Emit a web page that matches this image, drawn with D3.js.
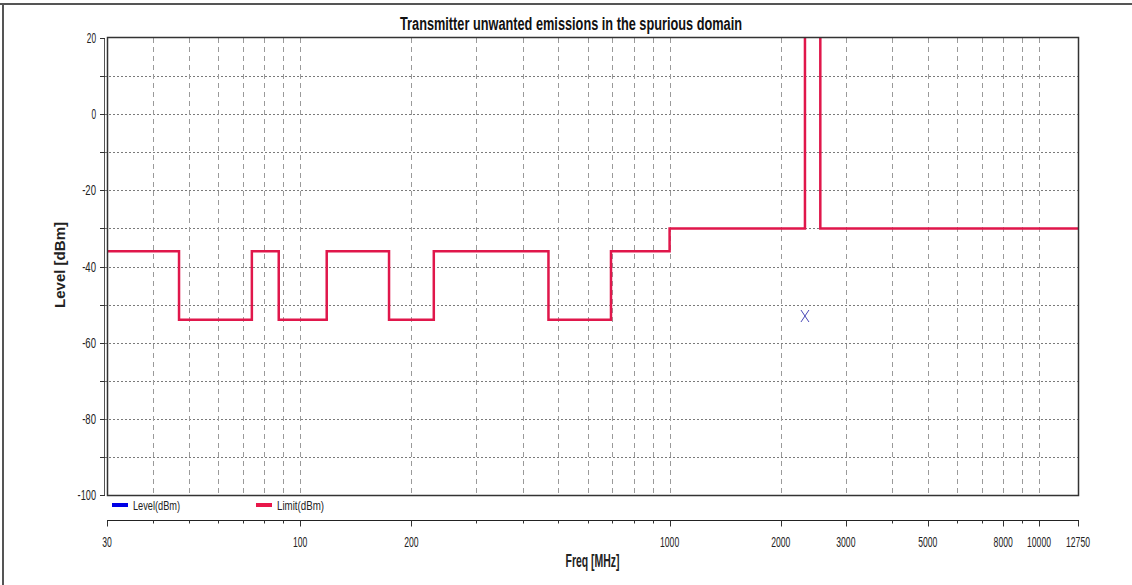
<!DOCTYPE html>
<html>
<head>
<meta charset="utf-8">
<script src="https://cdn.jsdelivr.net/npm/d3@7"></script>
<style>
  body { margin: 0; background: #fff; }
  svg { display: block; }
  text { font-family: "Liberation Sans", Arial, sans-serif; }
</style>
</head>
<body>
<svg width="1132" height="585"></svg>
<script>
// limit line: band start frequency (MHz) and level (dBm), stepped
var bandFreq = [30, 47, 74, 87.5, 118, 174, 230, 470, 694, 1000, 2325, 2558.5, 12750];
var limitLevel = [-36, -54, -36, -54, -36, -54, -36, -54, -36, -30, 30, -30, -30];

// measured level points
var levelFreq = [2325];
var levelValue = [-53];

var xTickLabels = [30, 100, 200, 1000, 2000, 3000, 5000, 8000, 10000, 12750];
var yTickLabels = [20, 0, -20, -40, -60, -80, -100];

var svg = d3.select("svg"),
  width = +svg.attr("width"),
  height = +svg.attr("height");

var plotL = 107, plotR = 1078, plotT = 38, plotB = 495;

var x = d3.scaleLog().domain([30, 12750]).range([plotL, plotR]);
var y = d3.scaleLinear().domain([-100, 20]).range([plotB, plotT]);

// narrow font look: squeeze glyphs to a per-char width
function narrow(sel, perChar) {
  sel.attr("textLength", function () {
    return this.textContent.length * perChar;
  }).attr("lengthAdjust", "spacingAndGlyphs");
}

// outer frame (top + left)
svg.append("line").attr("x1", 0).attr("x2", width).attr("y1", 4).attr("y2", 4)
  .style("stroke", "#555").style("stroke-width", 2);
svg.append("line").attr("x1", 3).attr("x2", 3).attr("y1", 4).attr("y2", height)
  .style("stroke", "#555").style("stroke-width", 2);

// minor freq values for grid / ticks
var minorFreq = [];
[10, 100, 1000, 10000].forEach(function (dec) {
  for (var k = 1; k < 10; k++) {
    var f = dec * k;
    if (f > 30 && f < 12750) minorFreq.push(f);
  }
});

var yGridVals = d3.range(-90, 20, 10);

// grid
svg.append("g")
  .selectAll("line")
  .data(yGridVals)
  .enter()
  .append("line")
  .attr("x1", plotL - 6)
  .attr("x2", plotR)
  .attr("y1", function (d) { return Math.round(y(d)) + 0.5; })
  .attr("y2", function (d) { return Math.round(y(d)) + 0.5; })
  .style("stroke", "#7a7a7a")
  .style("stroke-dasharray", "2,2");

svg.append("g")
  .selectAll("line")
  .data(minorFreq)
  .enter()
  .append("line")
  .attr("x1", function (d) { return Math.round(x(d)) + 0.5; })
  .attr("x2", function (d) { return Math.round(x(d)) + 0.5; })
  .attr("y1", plotT)
  .attr("y2", plotB)
  .style("stroke", "#9a9a9a")
  .style("stroke-dasharray", "5,4");

// clip for data
svg.append("clipPath").attr("id", "plotclip")
  .append("rect").attr("x", plotL).attr("y", plotT)
  .attr("width", plotR - plotL).attr("height", plotB - plotT);

var limitData = bandFreq.map(function (f, i) { return { f: f, v: limitLevel[i] }; });

var line = d3.line()
  .x(function (d) { return x(d.f); })
  .y(function (d) { return y(d.v); })
  .curve(d3.curveStepAfter);

svg.append("path")
  .datum(limitData)
  .attr("clip-path", "url(#plotclip)")
  .attr("d", line)
  .style("fill", "none")
  .style("stroke", "#e0174b")
  .style("stroke-width", 2.5);

// level markers (X)
svg.append("g")
  .selectAll("path")
  .data(levelFreq)
  .enter()
  .append("path")
  .attr("d", function (d, i) {
    var cx = x(d), cy = y(levelValue[i]);
    return "M" + (cx - 4) + "," + (cy - 6) + "L" + (cx + 4) + "," + (cy + 6) +
      "M" + (cx + 4) + "," + (cy - 6) + "L" + (cx - 4) + "," + (cy + 6);
  })
  .style("fill", "none")
  .style("stroke", "#4a4ab8")
  .style("stroke-width", 1);

// plot frame
svg.append("rect")
  .attr("x", plotL + 0.5).attr("y", plotT - 0.5)
  .attr("width", plotR - plotL).attr("height", plotB - plotT + 1)
  .style("fill", "none").style("stroke", "#333").style("stroke-width", 1.5);
svg.append("line").attr("x1", plotL - 2.5).attr("x2", plotL - 2.5)
  .attr("y1", plotT).attr("y2", plotB + 1)
  .style("stroke", "#555").style("stroke-width", 1);

// y ticks + labels
svg.append("g")
  .selectAll("line")
  .data(d3.range(-100, 21, 10))
  .enter()
  .append("line")
  .attr("x1", plotL - 7).attr("x2", plotL - 2)
  .attr("y1", function (d) { return Math.round(y(d)) + 0.5; })
  .attr("y2", function (d) { return Math.round(y(d)) + 0.5; })
  .style("stroke", "#333");

svg.append("g")
  .selectAll("text")
  .data(yTickLabels)
  .enter()
  .append("text")
  .attr("x", plotL - 11)
  .attr("y", function (d) { return y(d) + 5; })
  .attr("text-anchor", "end")
  .style("font-size", "15px")
  .style("fill", "#222")
  .text(function (d) { return d; })
  .call(narrow, 4.6);

// x axis (separate, below legend)
var xAxisY = 520.5;
svg.append("line").attr("x1", plotL).attr("x2", plotR + 1)
  .attr("y1", xAxisY).attr("y2", xAxisY)
  .style("stroke", "#222").style("stroke-width", 1.2);

svg.append("g")
  .selectAll("line")
  .data(minorFreq.concat([30, 12750]))
  .enter()
  .append("line")
  .attr("x1", function (d) { return Math.round(x(d)) + 0.5; })
  .attr("x2", function (d) { return Math.round(x(d)) + 0.5; })
  .attr("y1", xAxisY)
  .attr("y2", function (d) { return xTickLabels.indexOf(d) >= 0 ? xAxisY + 6 : xAxisY + 3; })
  .style("stroke", "#333");

svg.append("g")
  .selectAll("text")
  .data(xTickLabels)
  .enter()
  .append("text")
  .attr("x", function (d) { return x(d); })
  .attr("y", 547)
  .attr("text-anchor", "middle")
  .style("font-size", "15px")
  .style("fill", "#222")
  .text(function (d) { return d; })
  .call(narrow, 4.8);

// legend
var legend = [
  { name: "Level(dBm)", color: "#0000e6", x: 112 },
  { name: "Limit(dBm)", color: "#e8174a", x: 256 }
];
var lg = svg.append("g").selectAll("g").data(legend).enter().append("g");
lg.append("rect")
  .attr("x", function (d) { return d.x; })
  .attr("y", 503)
  .attr("width", 16)
  .attr("height", 4)
  .style("fill", function (d) { return d.color; });
lg.append("text")
  .attr("x", function (d) { return d.x + 21; })
  .attr("y", 510)
  .style("font-size", "13px")
  .style("fill", "#222")
  .text(function (d) { return d.name; })
  .call(narrow, 4.7);

// titles
svg.append("text")
  .attr("x", 571)
  .attr("y", 30)
  .attr("text-anchor", "middle")
  .attr("textLength", 342)
  .attr("lengthAdjust", "spacingAndGlyphs")
  .style("font-size", "18px")
  .style("font-weight", "bold")
  .style("fill", "#111")
  .text("Transmitter unwanted emissions in the spurious domain");

svg.append("text")
  .attr("x", (plotL + plotR) / 2)
  .attr("y", 567)
  .attr("text-anchor", "middle")
  .attr("textLength", 54)
  .attr("lengthAdjust", "spacingAndGlyphs")
  .style("font-size", "18px")
  .style("font-weight", "bold")
  .style("fill", "#222")
  .text("Freq [MHz]");

svg.append("text")
  .attr("transform", "translate(65,265) rotate(-90)")
  .attr("text-anchor", "middle")
  .attr("textLength", 86)
  .attr("lengthAdjust", "spacingAndGlyphs")
  .style("font-size", "14px")
  .style("font-weight", "bold")
  .style("fill", "#222")
  .text("Level [dBm]");
</script>
</body>
</html>
